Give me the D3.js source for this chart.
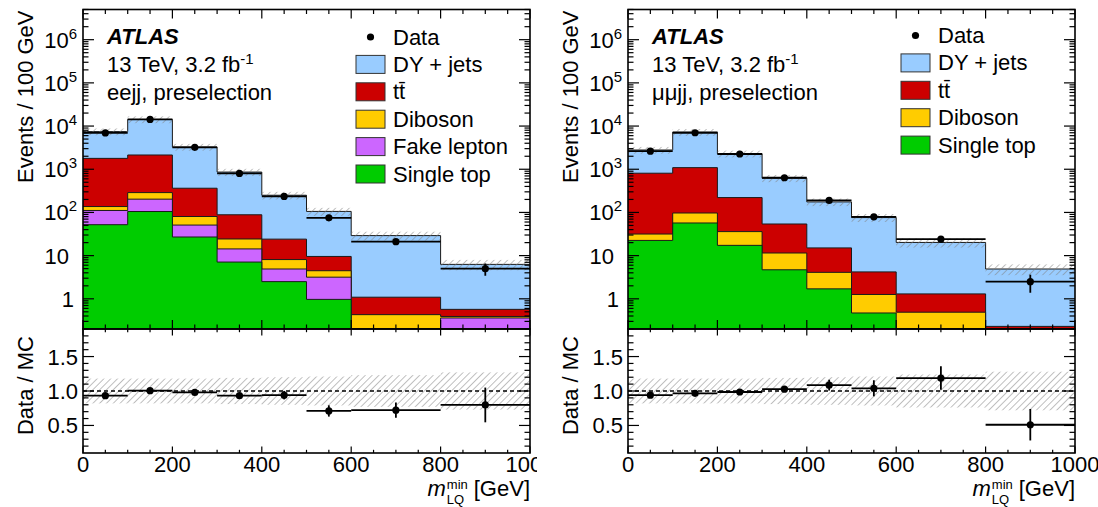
<!DOCTYPE html>
<html><head><meta charset="utf-8">
<script src="https://cdn.jsdelivr.net/npm/d3@7"></script>
<style>
body{margin:0;background:#fff}
svg{display:block}
text{font-family:"Liberation Sans",Arial,Helvetica,sans-serif;fill:#000}
</style>
</head><body>
<svg id="c" width="1098" height="507"></svg>
<script>
// ---------- data ----------
const binEdges = [0,100,200,300,400,500,600,800,1000];
const xTickLabels = [0,200,400,600,800,1000];
const yLogTickValues = [1,10,100,1e3,1e4,1e5,1e6];
const ratioTickLabels = [0.5,1.0,1.5];

const eejjSingleTop  = [52,105,27,7.1,2.5,0.97,0,0];
const eejjFakeLepton = [59,98,24,7.2,2.4,2.2,0,0.36];
const eejjDiboson    = [26,85,29.5,10,3.2,1.3,0.43,0.03];
const eejjTtbar      = [1650,1850,283,64,16,5.1,0.66,0.18];
const eejjDYjets     = [5660,12060,2916,772,226,96,28,5.7];
const eejjData       = [6940,14270,3214,802,235,75,21,5];
const eejjSyst       = [0.18,0.18,0.18,0.19,0.2,0.21,0.23,0.27];

const mmjjSingleTop  = [22.5,57,17.3,4.7,1.7,0.47,0,0];
const mmjjDiboson    = [9.1,40,18.7,6.8,2.4,0.79,0.49,0];
const mmjjTtbar      = [778,993,185,42.5,11,2.94,0.81,0.23];
const mmjjDYjets     = [1980,6160,2069,566,160,71.8,18.9,4.67];
const mmjjData       = [2622,7004,2256,636,190,79,24,2.5];
const mmjjSyst       = [0.18,0.18,0.18,0.19,0.2,0.21,0.24,0.28];

const COL = {dy:"#99ccff", tt:"#cc0000", dib:"#ffcc00", fake:"#cc66ff", st:"#00cc00"};

// ---------- layout ----------
const TOP = 9.5, MID = 329, BOT = 453;
const FS = 22;

const svg = d3.select("#c");
const defs = svg.append("defs");
const pat = defs.append("pattern").attr("id","hatch").attr("patternUnits","userSpaceOnUse")
  .attr("width",4.8).attr("height",4.8).attr("patternTransform","rotate(45)");
pat.append("line").attr("x1",0).attr("y1",-1).attr("x2",0).attr("y2",6)
  .attr("stroke","#808080").attr("stroke-width",1);

function drawPanel(p, idx) {
  const g = svg.append("g");
  if (idx === 1) g.append("rect").attr("x",537).attr("y",0).attr("width",561).attr("height",507).attr("fill","#fff");
  const x = d3.scaleLinear().domain([0,1000]).range([p.x0,p.x1]);
  const y = d3.scaleLog().domain([0.2,5e6]).range([MID,TOP]);
  const yr = d3.scaleLinear().domain([0.1,1.9]).range([BOT,MID]);
  const yv = v => y(Math.max(v,0.2));

  const clipTop = "clipTop"+idx, clipR = "clipR"+idx;
  defs.append("clipPath").attr("id",clipTop).append("rect").attr("x",p.x0).attr("y",TOP).attr("width",p.x1-p.x0).attr("height",MID-TOP);
  defs.append("clipPath").attr("id",clipR).append("rect").attr("x",p.x0).attr("y",MID).attr("width",p.x1-p.x0).attr("height",BOT-MID);

  // cumulative stack
  let cum = new Array(binEdges.length-1).fill(0);
  const cums = p.layers.map(l => { cum = cum.map((c,i)=>c+l.values[i]); return cum.slice(); });
  const total = cums[cums.length-1];
  const steps = vals => vals.flatMap((v,i)=>[[binEdges[i],v],[binEdges[i+1],v]]);
  const area = d3.area().x(d=>x(d[0])).y0(MID).y1(d=>yv(d[1]));
  const line = d3.line().x(d=>x(d[0])).y(d=>yv(d[1]));

  const gt = g.append("g").attr("clip-path",`url(#${clipTop})`);
  for (let k=p.layers.length-1;k>=0;k--) {
    gt.append("path").attr("d",area(steps(cums[k]))).attr("fill",p.layers[k].color);
    gt.append("path").attr("d",line(steps(cums[k]))).attr("fill","none").attr("stroke","#1a1a1a").attr("stroke-width",1);
  }
  // MC uncertainty hatch (top)
  total.forEach((t,i)=>{
    const u = p.syst[i];
    gt.append("rect").attr("x",x(binEdges[i])).attr("width",x(binEdges[i+1])-x(binEdges[i]))
      .attr("y",yv(t*(1+u))).attr("height",yv(t*(1-u))-yv(t*(1+u))).attr("fill","url(#hatch)");
  });
  // data (top)
  p.data.forEach((d,i)=>{
    const w = (binEdges[i+1]-binEdges[i])/100;
    const err = Math.sqrt(d*w)/w;
    const xc = x((binEdges[i]+binEdges[i+1])/2);
    gt.append("line").attr("x1",x(binEdges[i])).attr("x2",x(binEdges[i+1])).attr("y1",yv(d)).attr("y2",yv(d)).attr("stroke","#000").attr("stroke-width",1.8);
    gt.append("line").attr("x1",xc).attr("x2",xc).attr("y1",yv(d+err)).attr("y2",yv(d-err)).attr("stroke","#000").attr("stroke-width",1.8);
    gt.append("circle").attr("cx",xc).attr("cy",yv(d)).attr("r",3.6).attr("fill","#000");
  });

  // ratio panel
  const gr = g.append("g").attr("clip-path",`url(#${clipR})`);
  total.forEach((t,i)=>{
    const u = p.syst[i];
    gr.append("rect").attr("x",x(binEdges[i])).attr("width",x(binEdges[i+1])-x(binEdges[i]))
      .attr("y",yr(1+u)).attr("height",yr(1-u)-yr(1+u)).attr("fill","url(#hatch)");
  });
  gr.append("line").attr("x1",p.x0).attr("x2",p.x1).attr("y1",yr(1)).attr("y2",yr(1))
    .attr("stroke","#000").attr("stroke-width",1.5).attr("stroke-dasharray","4,3");
  p.data.forEach((d,i)=>{
    const w = (binEdges[i+1]-binEdges[i])/100;
    const r = d/total[i];
    const err = Math.sqrt(d*w)/w/total[i];
    const xc = x((binEdges[i]+binEdges[i+1])/2);
    gr.append("line").attr("x1",x(binEdges[i])).attr("x2",x(binEdges[i+1])).attr("y1",yr(r)).attr("y2",yr(r)).attr("stroke","#000").attr("stroke-width",1.8);
    gr.append("line").attr("x1",xc).attr("x2",xc).attr("y1",yr(r+err)).attr("y2",yr(r-err)).attr("stroke","#000").attr("stroke-width",1.8);
    gr.append("circle").attr("cx",xc).attr("cy",yr(r)).attr("r",3.6).attr("fill","#000");
  });

  // frames
  g.append("rect").attr("x",p.x0).attr("y",TOP).attr("width",p.x1-p.x0).attr("height",MID-TOP).attr("fill","none").attr("stroke","#000").attr("stroke-width",1.6);
  g.append("rect").attr("x",p.x0).attr("y",MID).attr("width",p.x1-p.x0).attr("height",BOT-MID).attr("fill","none").attr("stroke","#000").attr("stroke-width",1.6);

  // ticks
  const tk = g.append("g").attr("stroke","#000").attr("stroke-width",1.2);
  d3.range(0,1001,50).forEach(v=>{
    const major = v%200===0, xx = x(v);
    const lt = major?9:4.5, lr = major?6.5:3.2;
    tk.append("line").attr("x1",xx).attr("x2",xx).attr("y1",TOP).attr("y2",TOP+lt);
    tk.append("line").attr("x1",xx).attr("x2",xx).attr("y1",MID).attr("y2",MID-lt);
    tk.append("line").attr("x1",xx).attr("x2",xx).attr("y1",MID).attr("y2",MID+lr);
    tk.append("line").attr("x1",xx).attr("x2",xx).attr("y1",BOT).attr("y2",BOT-lr);
  });
  // log y ticks
  const logTicks = [];
  for (let e=-1;e<=6;e++) for (let m=1;m<=9;m++){ const v=m*Math.pow(10,e); if(v>=0.2&&v<=5e6) logTicks.push([v,m===1]); }
  logTicks.forEach(([v,major])=>{
    const yy=y(v), l=major?11:5.5;
    tk.append("line").attr("x1",p.x0).attr("x2",p.x0+l).attr("y1",yy).attr("y2",yy);
    tk.append("line").attr("x1",p.x1).attr("x2",p.x1-l).attr("y1",yy).attr("y2",yy);
  });
  // ratio y ticks
  d3.range(2,19).forEach(k=>{
    const v=k/10, yy=yr(v), major = k%5===0, l=major?11:5.5;
    tk.append("line").attr("x1",p.x0).attr("x2",p.x0+l).attr("y1",yy).attr("y2",yy);
    tk.append("line").attr("x1",p.x1).attr("x2",p.x1-l).attr("y1",yy).attr("y2",yy);
  });

  // tick labels
  xTickLabels.forEach(v=>{
    g.append("text").attr("x",x(v)).attr("y",472).attr("text-anchor","middle").attr("font-size",FS).text(v);
  });
  yLogTickValues.forEach(v=>{
    const yy=y(v)+8;
    if (v===1) g.append("text").attr("x",p.x0-9).attr("y",yy).attr("text-anchor","end").attr("font-size",FS).text("1");
    else if (v===10) g.append("text").attr("x",p.x0-14).attr("y",yy).attr("text-anchor","end").attr("font-size",FS).text("10");
    else {
      const t = g.append("text").attr("x",p.x0-6).attr("y",yy).attr("text-anchor","end").attr("font-size",FS);
      t.append("tspan").text("10");
      t.append("tspan").attr("dy",-9).attr("font-size",15).text(Math.round(Math.log10(v)));
    }
  });
  ratioTickLabels.forEach(v=>{
    g.append("text").attr("x",p.x0-5).attr("y",yr(v)+8).attr("text-anchor","end").attr("font-size",FS).text(v.toFixed(1));
  });

  // axis titles
  g.append("text").attr("transform",`translate(${p.x0-50},${TOP+1}) rotate(-90)`).attr("text-anchor","end").attr("font-size",FS).text("Events / 100 GeV");
  g.append("text").attr("transform",`translate(${p.x0-50},${MID+7}) rotate(-90)`).attr("text-anchor","end").attr("font-size",FS).text("Data / MC");
  const gev = g.append("text").attr("x",p.x1).attr("y",496).attr("text-anchor","end").attr("font-size",FS).text("[GeV]");
  const gevW = gev.node().getComputedTextLength();
  const subX = p.x1-gevW-6;
  const mn = g.append("text").attr("x",subX).attr("y",489).attr("text-anchor","end").attr("font-size",13).text("min");
  const mnW = mn.node().getComputedTextLength();
  g.append("text").attr("x",subX-mnW).attr("y",504).attr("text-anchor","start").attr("font-size",13).text("LQ");
  g.append("text").attr("x",subX-mnW-1).attr("y",496).attr("text-anchor","end").attr("font-size",FS).attr("font-style","italic").text("m");

  // labels
  const lx = p.x0+24;
  g.append("text").attr("x",lx).attr("y",43.5).attr("font-size",FS).attr("font-weight","bold").attr("font-style","italic").text("ATLAS");
  const t2 = g.append("text").attr("x",lx).attr("y",72).attr("font-size",FS);
  t2.append("tspan").text("13 TeV, 3.2 fb");
  t2.append("tspan").attr("dy",-8).attr("font-size",15).text("-1");
  g.append("text").attr("x",lx).attr("y",100).attr("font-size",FS).text(p.channel);

  // legend
  const lg = g.append("g");
  const bx = p.legX, rowH = 27.4, y0 = p.legY;
  lg.append("circle").attr("cx",bx+14.5).attr("cy",y0).attr("r",3.6).attr("fill","#000");
  lg.append("text").attr("x",bx+37).attr("y",y0+7.5).attr("font-size",FS).text("Data");
  p.legend.forEach((l,i)=>{
    const yy = y0+rowH*(i+1);
    lg.append("rect").attr("x",bx).attr("y",yy-9).attr("width",29).attr("height",18).attr("fill",l.color).attr("stroke","#333").attr("stroke-width",1);
    lg.append("text").attr("x",bx+37).attr("y",yy+7.5).attr("font-size",FS).text(l.name);
  });
}

const panels = [
  {x0:83, x1:530, channel:"eejj, preselection", legX:356, legY:37,
   layers:[{values:eejjSingleTop,color:COL.st},{values:eejjFakeLepton,color:COL.fake},{values:eejjDiboson,color:COL.dib},{values:eejjTtbar,color:COL.tt},{values:eejjDYjets,color:COL.dy}],
   data:eejjData, syst:eejjSyst,
   legend:[{name:"DY + jets",color:COL.dy},{name:"tt\u0304",color:COL.tt},{name:"Diboson",color:COL.dib},{name:"Fake lepton",color:COL.fake},{name:"Single top",color:COL.st}]},
  {x0:628, x1:1075, channel:"\u03bc\u03bcjj, preselection", legX:901, legY:35.5,
   layers:[{values:mmjjSingleTop,color:COL.st},{values:mmjjDiboson,color:COL.dib},{values:mmjjTtbar,color:COL.tt},{values:mmjjDYjets,color:COL.dy}],
   data:mmjjData, syst:mmjjSyst,
   legend:[{name:"DY + jets",color:COL.dy},{name:"tt\u0304",color:COL.tt},{name:"Diboson",color:COL.dib},{name:"Single top",color:COL.st}]}
];
panels.forEach((p,i)=>drawPanel(p,i));
</script>
</body></html>
